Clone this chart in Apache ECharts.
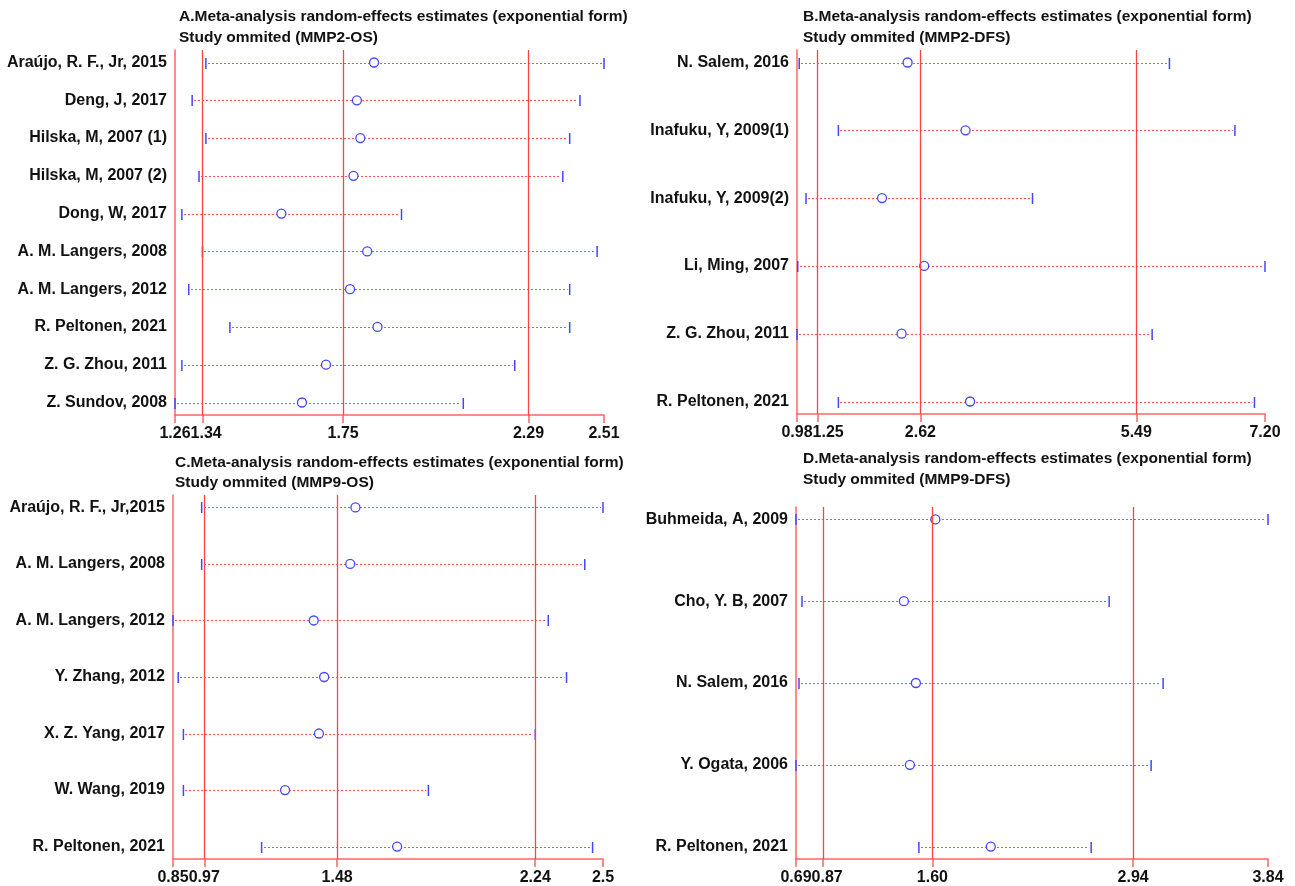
<!DOCTYPE html>
<html>
<head>
<meta charset="utf-8">
<script src="https://cdn.jsdelivr.net/npm/echarts@6/dist/echarts.min.js"></script>
<style>
html,body{margin:0;padding:0;background:#fff;}
#chart{width:1295px;height:886px;}
</style>
</head>
<body>
<div id="chart"></div>
<script>
// ---- Panel A: MMP2-OS ----
const titleA = 'A.Meta-analysis random-effects estimates (exponential form)\nStudy ommited (MMP2-OS)';
const namesA = ['Araújo, R. F., Jr, 2015', 'Deng, J, 2017', 'Hilska, M, 2007 (1)', 'Hilska, M, 2007 (2)', 'Dong, W, 2017',
  'A. M. Langers, 2008', 'A. M. Langers, 2012', 'R. Peltonen, 2021', 'Z. G. Zhou, 2011', 'Z. Sundov, 2008'];
const lowerA = [1.35, 1.31, 1.35, 1.33, 1.28, 1.34, 1.30, 1.42, 1.28, 1.26];
const estA   = [1.84, 1.79, 1.80, 1.78, 1.57, 1.82, 1.77, 1.85, 1.70, 1.63];
const upperA = [2.51, 2.44, 2.41, 2.39, 1.92, 2.49, 2.41, 2.41, 2.25, 2.10];
const overallA = [1.34, 1.75, 2.29];
const tickValuesA = [1.26, 1.34, 1.75, 2.29, 2.51];
const tickLabelsA = ['1.26', '1.34', '1.75', '2.29', '2.51'];

// ---- Panel B: MMP2-DFS ----
const titleB = 'B.Meta-analysis random-effects estimates (exponential form)\nStudy ommited (MMP2-DFS)';
const namesB = ['N. Salem, 2016', 'Inafuku, Y, 2009(1)', 'Inafuku, Y, 2009(2)', 'Li, Ming, 2007', 'Z. G. Zhou, 2011', 'R. Peltonen, 2021'];
const lowerB = [1.01, 1.53, 1.10, 0.99, 0.98, 1.53];
const estB   = [2.45, 3.22, 2.11, 2.67, 2.37, 3.28];
const upperB = [5.93, 6.80, 4.11, 7.20, 5.70, 7.06];
const overallB = [1.25, 2.62, 5.49];
const tickValuesB = [0.98, 1.25, 2.62, 5.49, 7.20];
const tickLabelsB = ['0.98', '1.25', '2.62', '5.49', '7.20'];

// ---- Panel C: MMP9-OS ----
const titleC = 'C.Meta-analysis random-effects estimates (exponential form)\nStudy ommited (MMP9-OS)';
const namesC = ['Araújo, R. F., Jr,2015', 'A. M. Langers, 2008', 'A. M. Langers, 2012', 'Y. Zhang, 2012', 'X. Z. Yang, 2017', 'W. Wang, 2019', 'R. Peltonen, 2021'];
const lowerC = [0.96, 0.96, 0.85, 0.87, 0.89, 0.89, 1.19];
const estC   = [1.55, 1.53, 1.39, 1.43, 1.41, 1.28, 1.71];
const upperC = [2.50, 2.43, 2.29, 2.36, 2.24, 1.83, 2.46];
const overallC = [0.97, 1.48, 2.24];
const tickValuesC = [0.85, 0.97, 1.48, 2.24, 2.5];
const tickLabelsC = ['0.85', '0.97', '1.48', '2.24', '2.5'];

// ---- Panel D: MMP9-DFS ----
const titleD = 'D.Meta-analysis random-effects estimates (exponential form)\nStudy ommited (MMP9-DFS)';
const namesD = ['Buhmeida, A, 2009', 'Cho, Y. B, 2007', 'N. Salem, 2016', 'Y. Ogata, 2006', 'R. Peltonen, 2021'];
const lowerD = [0.69, 0.73, 0.71, 0.69, 1.51];
const estD   = [1.62, 1.41, 1.49, 1.45, 1.99];
const upperD = [3.84, 2.78, 3.14, 3.06, 2.66];
const overallD = [0.87, 1.60, 2.94];
const tickValuesD = [0.69, 0.87, 1.60, 2.94, 3.84];
const tickLabelsD = ['0.69', '0.87', '1.60', '2.94', '3.84'];

// ---- layout (pixels) ----
const layouts = [
  {left: 175, top: 50,  width: 429, height: 365, tLeft: 179, tTop: 6, lh: 21},
  {left: 797, top: 50,  width: 468, height: 364, tLeft: 803, tTop: 6, lh: 21},
  {left: 173, top: 495, width: 430, height: 366, tLeft: 175, tTop: 452, lh: 20.5},
  {left: 796, top: 507, width: 472, height: 354, tLeft: 803, tTop: 448.5, lh: 20.5}
];

const panels = [
  {title: titleA, names: namesA, lower: lowerA, est: estA, upper: upperA, overall: overallA, tv: tickValuesA, tl: tickLabelsA},
  {title: titleB, names: namesB, lower: lowerB, est: estB, upper: upperB, overall: overallB, tv: tickValuesB, tl: tickLabelsB},
  {title: titleC, names: namesC, lower: lowerC, est: estC, upper: upperC, overall: overallC, tv: tickValuesC, tl: tickLabelsC},
  {title: titleD, names: namesD, lower: lowerD, est: estD, upper: upperD, overall: overallD, tv: tickValuesD, tl: tickLabelsD}
];

const FONT = '"Liberation Sans", Arial, Helvetica, sans-serif';
const LABEL_SIZE = 16;
const AXIS_RED = '#ff6464';
const REF_RED = '#ff4242';
const DOT_RED = '#ff5050';
const BLUE = '#4545ff';
const ROW_PAD = 12.5;

const measureCtx = document.createElement('canvas').getContext('2d');
measureCtx.font = 'bold ' + LABEL_SIZE + 'px ' + FONT;
function textW(s) { return measureCtx.measureText(s).width; }

const option = {
  animation: false,
  backgroundColor: '#ffffff',
  title: [], grid: [], xAxis: [], yAxis: [], series: []
};

panels.forEach((p, k) => {
  const L = layouts[k];
  const n = p.names.length;
  const spacing = (L.height - 2 * ROW_PAD) / (n - 1);
  const padU = ROW_PAD / spacing;
  const tv = p.tv, tl = p.tl;
  const xMin = tv[0], xMax = tv[tv.length - 1];
  // push the second tick label right so it does not overlap the min label
  const gapPx = (tv[1] - tv[0]) / (xMax - xMin) * L.width;
  const need = (textW(tl[0]) + textW(tl[1])) / 2;
  const shift = Math.max(0, need - gapPx);
  const baseRich = {fontFamily: FONT, fontSize: LABEL_SIZE, fontWeight: 'bold', color: '#111'};

  option.title.push({
    text: p.title, left: L.tLeft, top: L.tTop, padding: 0,
    textStyle: {fontFamily: FONT, fontSize: 15.5, fontWeight: 'bold', color: '#111', lineHeight: L.lh}
  });
  option.grid.push({left: L.left, top: L.top, width: L.width, height: L.height, containLabel: false});
  option.xAxis.push({
    type: 'value', gridIndex: k,
    min: xMin, max: xMax,
    axisLine: {show: true, onZero: false, lineStyle: {color: AXIS_RED, width: 1.5}},
    axisTick: {show: true, customValues: tv, length: 8, lineStyle: {color: AXIS_RED, width: 1.5}},
    axisLabel: {
      customValues: tv, margin: 11, hideOverlap: false, showMinLabel: true, showMaxLabel: true,
      fontFamily: FONT, fontSize: LABEL_SIZE, fontWeight: 'bold', color: '#111',
      rich: {
        n: Object.assign({}, baseRich),
        s: Object.assign({}, baseRich, {padding: [0, 0, 0, 2 * shift]})
      },
      formatter: function (v) {
        let best = 0, bd = Infinity;
        tv.forEach((t, i) => { const d = Math.abs(t - v); if (d < bd) { bd = d; best = i; } });
        return (best === 1 ? '{s|' : '{n|') + tl[best] + '}';
      }
    },
    splitLine: {show: false}
  });
  option.yAxis.push({
    type: 'value', gridIndex: k, inverse: true,
    min: -padU, max: n - 1 + padU,
    axisLine: {show: true, onZero: false, lineStyle: {color: AXIS_RED, width: 1.5}},
    axisTick: {show: false},
    splitLine: {show: false},
    axisLabel: {
      customValues: p.names.map((_, i) => i), margin: 8,
      fontFamily: FONT, fontSize: LABEL_SIZE, fontWeight: 'bold', color: '#111',
      formatter: function (v) { return p.names[Math.round(v)] || ''; }
    }
  });
  // overall estimate reference lines (drawn beneath the study marks)
  option.series.push({
    type: 'scatter', xAxisIndex: k, yAxisIndex: k, silent: true, z: 1,
    data: [],
    markLine: {
      silent: true, symbol: 'none', animation: false,
      label: {show: false},
      lineStyle: {color: REF_RED, width: 1.3, type: 'solid'},
      emphasis: {disabled: true},
      data: p.overall.map(v => ({xAxis: v}))
    }
  });
  // confidence intervals: dotted line + blue end caps
  option.series.push({
    type: 'custom', xAxisIndex: k, yAxisIndex: k, silent: true, z: 3,
    data: p.names.map((_, i) => [p.lower[i], i, p.upper[i]]),
    encode: {x: [0, 2], y: 1},
    renderItem: function (params, api) {
      const lo = api.coord([api.value(0), api.value(1)]);
      const hi = api.coord([api.value(2), api.value(1)]);
      const y = Math.round(lo[1]) + 0.5;
      const h = 5.5;
      return {
        type: 'group',
        children: [
          {type: 'line', shape: {x1: Math.round(lo[0]) + 2, y1: y, x2: hi[0] - 2, y2: y},
           style: {stroke: DOT_RED, lineWidth: 1, lineDash: [2, 2]}},
          {type: 'line', shape: {x1: lo[0], y1: y - h, x2: lo[0], y2: y + h},
           style: {stroke: BLUE, lineWidth: 1.5}},
          {type: 'line', shape: {x1: hi[0], y1: y - h, x2: hi[0], y2: y + h},
           style: {stroke: BLUE, lineWidth: 1.5}}
        ]
      };
    }
  });
  // point estimates
  option.series.push({
    type: 'scatter', xAxisIndex: k, yAxisIndex: k, silent: true, z: 4,
    symbol: 'circle', symbolSize: 9,
    itemStyle: {color: '#ffffff', borderColor: BLUE, borderWidth: 1.3, opacity: 1},
    data: p.est.map((v, i) => [v, i])
  });
});

const chart = echarts.init(document.getElementById('chart'), null, {renderer: 'canvas'});
chart.setOption(option);
</script>
</body>
</html>
